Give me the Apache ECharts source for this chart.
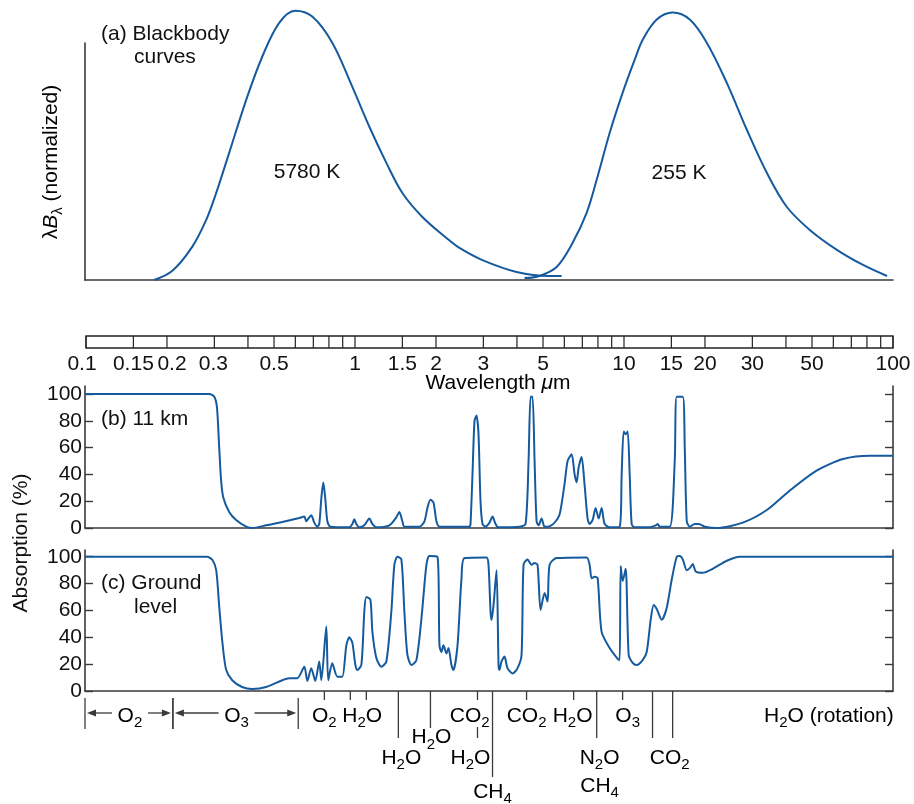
<!DOCTYPE html>
<html><head><meta charset="utf-8">
<script src="https://cdn.jsdelivr.net/npm/echarts@6/dist/echarts.min.js"></script>
<style>html,body{margin:0;padding:0;background:#fff}#c{width:914px;height:804px}</style>
</head><body><div id="c"></div>
<script>
// ---------- data (wavelength in micrometres) ----------
const bb5780 = [[0.1805,0],[0.2105,0.033],[0.250,0.123],[0.2818,0.223],[0.3069,0.323],[0.343,0.472],[0.3968,0.669],[0.455,0.829],[0.526,0.955],[0.6035,1.0],[0.698,0.978],[0.828,0.881],[0.983,0.717],[1.137,0.569],[1.315,0.435],[1.508,0.323],[1.789,0.234],[2.198,0.156],[2.457,0.119],[2.99,0.074],[4.002,0.030],[5.31,0.015],[5.88,0.015]];
const bb255 = [[4.285,0.007],[4.873,0.015],[5.636,0.048],[6.463,0.138],[7.287,0.249],[7.94,0.372],[8.87,0.546],[9.91,0.695],[10.99,0.818],[11.77,0.892],[13.27,0.967],[15.21,0.993],[17.6,0.967],[20.35,0.881],[24.15,0.732],[28.66,0.558],[34.0,0.398],[40.36,0.271],[49.1,0.186],[61.9,0.112],[77.4,0.056],[95.0,0.015]];
const abs11km = [[0.1,100],[0.289,100],[0.302,98],[0.309,90],[0.315,60],[0.320,36],[0.326,23],[0.343,12],[0.364,6],[0.397,1],[0.418,0],[0.471,2],[0.540,4.5],[0.625,7.5],[0.652,8.5],[0.663,5],[0.675,7],[0.692,9.5],[0.710,4],[0.729,1],[0.741,3],[0.754,22],[0.767,34],[0.780,22],[0.794,5],[0.815,1],[0.958,0.5],[0.983,3],[1.0,6.5],[1.017,3],[1.044,0.5],[1.089,2],[1.137,7],[1.167,3],[1.207,0.5],[1.349,2],[1.432,8],[1.470,12],[1.508,5],[1.534,1],[1.745,1],[1.821,5],[1.868,15],[1.917,21],[1.967,19],[2.018,5],[2.070,1],[2.677,1],[2.700,3],[2.746,40],[2.794,80],[2.842,84],[2.891,70],[2.941,20],[2.992,3],[3.070,1],[3.176,4],[3.259,8.5],[3.344,3],[3.431,0.5],[4.106,1],[4.323,3],[4.435,50],[4.512,98],[4.589,98],[4.669,50],[4.749,5],[4.831,2],[4.957,7],[5.086,1],[5.218,1],[5.539,4],[5.782,10],[6.034,33],[6.192,50],[6.407,55],[6.574,40],[6.687,34],[6.803,45],[6.980,53],[7.161,32],[7.347,7],[7.474,3],[7.669,6],[7.868,15],[8.073,7],[8.282,15],[8.498,3],[8.870,0.5],[9.664,1],[9.830,40],[10.0,72],[10.173,70],[10.348,72],[10.527,40],[10.709,3],[10.987,0.5],[12.496,0.5],[13.155,2],[13.382,3],[13.614,1],[14.826,1],[15.475,50],[15.742,98],[16.572,98],[16.858,60],[17.149,5],[17.595,1],[18.364,3],[19.003,3],[20.004,1],[22.168,0],[27.689,4],[34.011,13.4],[41.41,28],[52.18,43],[65.18,51.5],[82.12,54],[100,54]];
const absGround = [[0.1,100],[0.284,100],[0.297,97.7],[0.307,90],[0.315,63],[0.323,38],[0.334,16],[0.352,8],[0.383,3],[0.418,1.5],[0.471,3],[0.540,8],[0.573,9.5],[0.614,9.5],[0.652,18],[0.669,7.5],[0.692,17],[0.716,7.5],[0.741,22],[0.754,8],[0.787,48],[0.800,8],[0.828,20.6],[0.865,10.7],[0.902,10.7],[0.934,34],[0.958,40],[0.983,36],[1.009,19.4],[1.026,15.7],[1.062,19.4],[1.089,59],[1.108,70],[1.147,68],[1.167,44],[1.207,24.6],[1.260,18],[1.315,22],[1.372,59],[1.408,94],[1.445,100],[1.495,98],[1.534,59],[1.574,27],[1.629,19.4],[1.700,23],[1.775,54],[1.852,94],[1.900,100.5],[2.035,100],[2.070,34],[2.106,29],[2.142,34],[2.198,28],[2.236,32],[2.294,19.4],[2.334,15.7],[2.416,34],[2.500,84],[2.565,99],[3.096,99.5],[3.149,94],[3.204,59],[3.231,53],[3.287,64],[3.373,90],[3.431,19.4],[3.460,15.7],[3.520,22],[3.611,25.6],[3.705,17],[3.867,13],[4.037,17],[4.177,27],[4.249,94],[4.397,98],[4.550,94],[4.669,95.3],[4.790,94],[4.915,60.4],[5.086,73],[5.218,66.6],[5.308,94],[5.635,99],[7.285,99.5],[7.474,94],[7.603,84],[7.801,85],[8.004,84],[8.282,44],[8.870,32],[9.500,24],[9.664,23],[9.747,93],[9.915,82],[10.173,91],[10.437,27],[10.800,21],[11.176,19.4],[11.765,23],[12.175,29],[12.599,53],[12.927,64],[13.267,61],[13.848,53],[14.453,62],[15.083,83],[15.742,100],[16.152,100.5],[16.572,98],[17.149,90],[17.595,91.5],[18.053,94.5],[18.522,89],[19.665,88],[21.423,91],[24.155,97],[26.988,100],[100,100]];

const rulerTicks = [0.1,0.15,0.2,0.3,0.4,0.5,0.6,0.7,0.8,0.9,1,1.5,2,3,4,5,6,7,8,9,10,15,20,30,40,50,60,70,80,90,100];
const rulerLabels = ['0.1','0.15','0.2','0.3','0.5','1','1.5','2','3','5','10','15','20','30','50','100'];
const absTicks = [0,20,40,60,80,100];

const regionSpans = [[0.1,0.212],[0.212,0.619]];
const regionNames = ['O2','O3'];
const bandTickWl = [0.774,0.966,1.108,1.457,1.917,2.866,3.259,4.36,6.52,7.94,9.91,12.8,15.2];
const bandTickKind = ['short','short','short','long','mid','split','xlong','short','short','long','short','long','long'];
const bandLabelWl = [0.774,1.07,2.68,4.36,6.46,10.35,57.8,1.933,1.495,2.70,8.14,14.83,8.14,3.259];
const bandLabelText = ['O2','H2O','CO2','CO2','H2O','O3','H2O (rotation)','H2O','H2O','H2O','N2O','CO2','CH4','CH4'];
const bandLabelRow = ['r1','r1','r1','r1','r1','r1','r1','r2','r3','r3','r3','r3','r4','r5'];

// ---------- styles ----------
const FONT = '"Liberation Sans", Arial, Helvetica, sans-serif';
const INK = '#111';
const AX = '#3a3a3a';
const BLUE = '#165a9e';
const FS = 21;
const RICH = {
  n: {fontSize: FS, fontFamily: FONT, lineHeight: 26, color: INK},
  i: {fontSize: FS, fontFamily: FONT, fontStyle: 'italic', lineHeight: 26, color: INK},
  s: {fontSize: 15, fontFamily: FONT, height: 12, verticalAlign: 'bottom', color: INK}
};
const TICK_SEGMENTS = {short: [[0,9]], mid: [[0,37]], long: [[0,47]], xlong: [[0,86]], split: [[0,9],[36,47]]};
const ROW_OFFSET = {r1: 25, r2: 46.5, r3: 67, r4: 95, r5: 101};
const RULER_LABEL_NUDGE = {'0.1': -4, '0.2': 5, '0.3': -1};

function chem(t) {
  let out = '', buf = '', mode = null;
  for (let k = 0; k < t.length; k++) {
    const ch = t[k];
    const isSub = /\d/.test(ch) && k > 0 && /[A-Za-z]/.test(t[k-1]);
    const m = isSub ? 's' : 'n';
    if (mode !== null && m !== mode) { out += '{' + mode + '|' + buf + '}'; buf = ''; }
    mode = m; buf += ch;
  }
  if (buf) out += '{' + mode + '|' + buf + '}';
  return out;
}

const chart = echarts.init(document.getElementById('c'), null, {renderer: 'canvas'});
const L = 85, W = 808;
const xBase = {type: 'log', logBase: 10, min: 0.1, max: 100, axisLabel: {show: false}, axisTick: {show: false}, splitLine: {show: false}};
const axLine = {show: true, lineStyle: {color: AX, width: 1.6}};
function yAbs(grid, max, right) {
  return {type: 'value', gridIndex: grid, min: 0, max: max, position: right ? 'right' : 'left',
    axisLine: axLine, splitLine: {show: false},
    axisTick: {show: true, inside: true, length: 8, customValues: absTicks, lineStyle: {color: AX, width: 1.4}},
    axisLabel: right ? {show: false} : {show: true, customValues: absTicks, fontSize: FS, fontFamily: FONT, color: INK, margin: 3}};
}

const option = {
  animation: false,
  grid: [
    {left: L, width: W, top: 43, height: 237},
    {left: 86, width: 807, top: 336, height: 12, show: true, borderColor: '#222', borderWidth: 1.3},
    {left: L, width: W, top: 386, height: 142},
    {left: L, width: W, top: 550, height: 141}
  ],
  xAxis: [
    Object.assign({}, xBase, {gridIndex: 0, axisLine: axLine}),
    Object.assign({}, xBase, {gridIndex: 1, axisLine: {show: false}}),
    Object.assign({}, xBase, {gridIndex: 2, axisLine: axLine}),
    Object.assign({}, xBase, {gridIndex: 3, axisLine: axLine})
  ],
  yAxis: [
    {type: 'value', gridIndex: 0, min: 0, max: 0.88, axisLine: axLine, axisTick: {show: false}, axisLabel: {show: false}, splitLine: {show: false}},
    {type: 'value', gridIndex: 1, min: 0, max: 1, show: false},
    yAbs(2, 106, false), yAbs(2, 106, true),
    yAbs(3, 105, false), yAbs(3, 105, true)
  ],
  series: [
    {type: 'line', xAxisIndex: 0, yAxisIndex: 0, data: bb5780, smooth: 0.35, symbol: 'none', clip: false, silent: true, lineStyle: {color: BLUE, width: 2}},
    {type: 'line', xAxisIndex: 0, yAxisIndex: 0, data: bb255, smooth: 0.35, symbol: 'none', clip: false, silent: true, lineStyle: {color: BLUE, width: 2}},
    {type: 'line', xAxisIndex: 2, yAxisIndex: 2, data: abs11km, smooth: 0.25, symbol: 'none', clip: false, silent: true, lineStyle: {color: BLUE, width: 2}},
    {type: 'line', xAxisIndex: 3, yAxisIndex: 4, data: absGround, smooth: 0.25, symbol: 'none', clip: false, silent: true, lineStyle: {color: BLUE, width: 2}},
    // wavelength ruler
    {type: 'custom', xAxisIndex: 1, yAxisIndex: 1, silent: true, data: rulerTicks.map(v => [v, 0]),
      renderItem: function (params, api) {
        const v = api.value(0);
        const t = api.coord([v, 1]), b = api.coord([v, 0]);
        const ch = [{type: 'line', shape: {x1: t[0], y1: t[1], x2: b[0], y2: b[1]}, style: {stroke: '#222', lineWidth: 1.2}}];
        const li = rulerLabels.map(parseFloat).indexOf(v);
        if (li >= 0) {
          const lab = rulerLabels[li];
          ch.push({type: 'text', x: b[0] + (RULER_LABEL_NUDGE[lab] || 0), y: b[1] + 16, style: {text: lab, fontSize: FS, fontFamily: FONT, fill: INK, align: 'center', verticalAlign: 'middle'}});
        }
        return {type: 'group', children: ch};
      }},
    // region arrows (O2, O3)
    {type: 'custom', xAxisIndex: 3, yAxisIndex: 4, silent: true, data: regionSpans,
      renderItem: function (params, api) {
        const i = params.dataIndex;
        const a = api.coord([api.value(0), 0]), b = api.coord([api.value(1), 0]);
        const y0 = a[1], x1 = a[0], x2 = b[0], xm = (x1 + x2) / 2, ya = y0 + 22;
        const st = {stroke: AX, lineWidth: 1.3};
        const ch = [];
        [x1, x2].forEach(x => ch.push({type: 'line', shape: {x1: x, y1: y0 + 7, x2: x, y2: y0 + 38}, style: st}));
        const l1 = x1 + 2, l2 = xm - 17, r1 = xm + 19, r2 = x2 - 2;
        ch.push({type: 'line', shape: {x1: l1 + 6, y1: ya, x2: l2, y2: ya}, style: st});
        ch.push({type: 'polygon', shape: {points: [[l1, ya], [l1 + 9, ya - 3.5], [l1 + 9, ya + 3.5]]}, style: {fill: AX}});
        ch.push({type: 'line', shape: {x1: r1, y1: ya, x2: r2 - 6, y2: ya}, style: st});
        ch.push({type: 'polygon', shape: {points: [[r2, ya], [r2 - 9, ya - 3.5], [r2 - 9, ya + 3.5]]}, style: {fill: AX}});
        ch.push({type: 'text', x: xm + 1, y: y0 + 25, style: {text: chem(regionNames[i]), rich: RICH, align: 'center', verticalAlign: 'middle'}});
        return {type: 'group', children: ch};
      }},
    // band tick lines
    {type: 'custom', xAxisIndex: 3, yAxisIndex: 4, silent: true, data: bandTickWl.map(v => [v, 0]),
      renderItem: function (params, api) {
        const p = api.coord([api.value(0), 0]);
        const segs = TICK_SEGMENTS[bandTickKind[params.dataIndex]];
        return {type: 'group', children: segs.map(s => ({type: 'line', shape: {x1: p[0], y1: p[1] + s[0], x2: p[0], y2: p[1] + s[1]}, style: {stroke: AX, lineWidth: 1.3}}))};
      }},
    // band labels
    {type: 'custom', xAxisIndex: 3, yAxisIndex: 4, silent: true, data: bandLabelWl.map(v => [v, 0]),
      renderItem: function (params, api) {
        const i = params.dataIndex;
        const p = api.coord([api.value(0), 0]);
        return {type: 'text', x: p[0], y: p[1] + ROW_OFFSET[bandLabelRow[i]], style: {text: chem(bandLabelText[i]), rich: RICH, align: 'center', verticalAlign: 'middle'}};
      }}
  ],
  graphic: [
    {type: 'text', x: 101, y: 34, style: {text: '(a) Blackbody', fontSize: FS, fontFamily: FONT, fill: INK, align: 'left', verticalAlign: 'middle'}},
    {type: 'text', x: 134, y: 57, style: {text: 'curves', fontSize: FS, fontFamily: FONT, fill: INK, align: 'left', verticalAlign: 'middle'}},
    {type: 'text', x: 307, y: 172, style: {text: '5780 K', fontSize: FS, fontFamily: FONT, fill: INK, align: 'center', verticalAlign: 'middle'}},
    {type: 'text', x: 679, y: 173, style: {text: '255 K', fontSize: FS, fontFamily: FONT, fill: INK, align: 'center', verticalAlign: 'middle'}},
    {type: 'text', x: 51, y: 162, rotation: Math.PI / 2, style: {text: '{n|λ}{i|B}{s|λ}{n| (normalized)}', rich: RICH, align: 'center', verticalAlign: 'middle'}},
    {type: 'text', x: 498, y: 383, style: {text: '{n|Wavelength }{i|μ}{n|m}', rich: RICH, align: 'center', verticalAlign: 'middle'}},
    {type: 'text', x: 101, y: 419, style: {text: '(b) 11 km', fontSize: FS, fontFamily: FONT, fill: INK, align: 'left', verticalAlign: 'middle'}},
    {type: 'text', x: 101, y: 583, style: {text: '(c) Ground', fontSize: FS, fontFamily: FONT, fill: INK, align: 'left', verticalAlign: 'middle'}},
    {type: 'text', x: 134, y: 607, style: {text: 'level', fontSize: FS, fontFamily: FONT, fill: INK, align: 'left', verticalAlign: 'middle'}},
    {type: 'text', x: 21, y: 543, rotation: Math.PI / 2, style: {text: 'Absorption (%)', fontSize: FS, fontFamily: FONT, fill: INK, align: 'center', verticalAlign: 'middle'}}
  ]
};
chart.setOption(option);
</script>
</body></html>
